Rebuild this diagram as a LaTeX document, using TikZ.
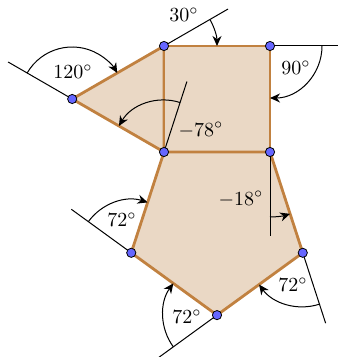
\documentclass[tikz,border=0pt]{standalone}
\usetikzlibrary{calc,arrows.meta}
\definecolor{polyfill}{RGB}{234,216,197}
\definecolor{polyedge}{RGB}{193,129,64}
\definecolor{vtx}{RGB}{102,102,255}
\tikzset{
  edge/.style={draw=polyedge,line width=1.4pt,fill=polyfill,line join=round},
  ext/.style={draw=black,line width=0.5pt},
  turn/.style={draw=black,line width=0.5pt,-{Stealth[length=5pt,width=4.5pt,inset=1.6pt]}},
  vert/.style={circle,draw=black,line width=0.4pt,fill=vtx,inner sep=0pt,minimum size=4.6pt},
  lbl/.style={inner sep=0pt}
}
\begin{document}
\begin{tikzpicture}[x=0.5pt,y=0.5pt]
\useasboundingbox (0,0) rectangle (337,357);
% vertices
\coordinate (D) at (164,205);
\coordinate (E) at (270,205);
\coordinate (F) at (302.76,104.19);
\coordinate (G) at (217,41.88);
\coordinate (H) at (131.24,104.19);
\coordinate (A) at (72.2,258);
\coordinate (B) at (164,311);
\coordinate (C) at (270,311);
% polygons
\draw[edge] (A) -- (B) -- (D) -- cycle;
\draw[edge] (B) -- (C) -- (E) -- (D) -- cycle;
\draw[edge] (D) -- (E) -- (F) -- (G) -- (H) -- cycle;
% extension lines
\coordinate (xA) at ($(A)+(150:37pt)$);
\coordinate (xB) at ($(B)+(30:37pt)$);
\coordinate (xC) at ($(C)+(0:37pt)$);
\coordinate (xE) at ($(E)+(270:42pt)$);
\coordinate (xD) at ($(D)+(72:37pt)$);
\coordinate (xH) at ($(H)+(144:37pt)$);
\coordinate (xG) at ($(G)+(216:37pt)$);
\coordinate (xF) at ($(F)+(288:37pt)$);
\draw[ext] (A) -- (xA);
\draw[ext] (B) -- (xB);
\draw[ext] (C) -- (xC);
\draw[ext] (E) -- (xE);
\draw[ext] (D) -- (xD);
\draw[ext] (H) -- (xH);
\draw[ext] (G) -- (xG);
\draw[ext] (F) -- (xF);
% turning arcs
\draw[turn] ($(A)+(150:26pt)$) arc[start angle=150,end angle=30,radius=26pt];
\draw[turn] ($(B)+(30:26.5pt)$) arc[start angle=30,end angle=0,radius=26.5pt];
\draw[turn] ($(C)+(0:26pt)$) arc[start angle=0,end angle=-90,radius=26pt];
\draw[turn] ($(D)+(72:26pt)$) arc[start angle=72,end angle=150,radius=26pt];
\draw[turn] ($(E)+(270:32.5pt)$) arc[start angle=270,end angle=288,radius=32.5pt];
\draw[turn] ($(F)+(288:27pt)$) arc[start angle=288,end angle=216,radius=27pt];
\draw[turn] ($(G)+(216:27pt)$) arc[start angle=216,end angle=144,radius=27pt];
\draw[turn] ($(H)+(144:26.5pt)$) arc[start angle=144,end angle=72,radius=26.5pt];
% labels
\node[lbl] (lA) at (73,285) {$120^\circ$};
\node[lbl] (lB) at (184,342) {$30^\circ$};
\node[lbl] (lC) at (296,289) {$90^\circ$};
\node[lbl] (lD) at (201,227) {$-78^\circ$};
\node[lbl] (lE) at (241,158) {$-18^\circ$};
\node[lbl] (lF) at (293,72) {$72^\circ$};
\node[lbl] (lG) at (187,40) {$72^\circ$};
\node[lbl] (lH) at (122,137) {$72^\circ$};
% vertex dots
\foreach \p in {A,B,C,D,E,F,G,H}
  \node[vert] (v\p) at (\p) {};
\end{tikzpicture}
\end{document}
